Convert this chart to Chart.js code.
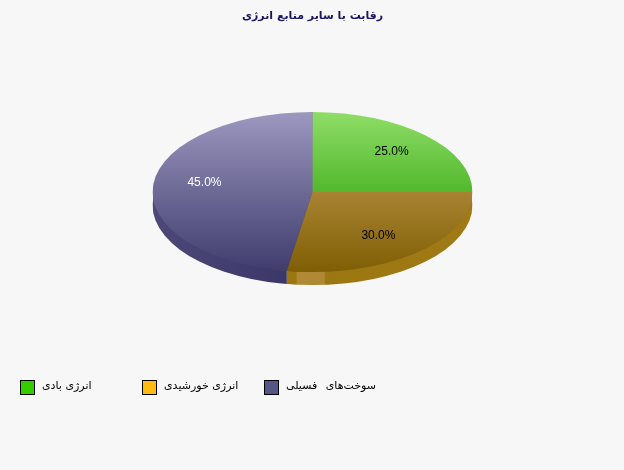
<!DOCTYPE html>
<html lang="fa">
<head>
<meta charset="utf-8">
<title>رقابت با سایر منابع انرژی</title>
<script src="https://cdn.jsdelivr.net/npm/chart.js@4"></script>
<style>
  html, body { margin: 0; padding: 0; background: #f7f7f7; }
  #wrap { position: relative; width: 624px; height: 470px; overflow: hidden; }
  #chart { display: block; }
  .key { position: absolute; top: 380px; width: 122px; height: 15px; }
  .key i { position: absolute; left: 0; top: 0; width: 13px; height: 13px; border: 1px solid #000; }
  .key span { position: absolute; left: 22px; top: -1px; white-space: nowrap; direction: rtl;
              font: 11px "DejaVu Sans", sans-serif; color: #000; }
</style>
</head>
<body>
<div id="wrap">
  <canvas id="chart" width="624" height="470"></canvas>
</div>
<script>
const titleText = 'رقابت با سایر منابع انرژی';
const categories = ['انرژی بادی', 'انرژی خورشیدی', 'سوخت‌های فسیلی'];
const values = [25, 30, 45];
const keyColors = ['#33cc00', '#ffbb11', '#555588'];
const labelColors = ['#000', '#000', '#fff'];
const topColors = [['#8fdd68', '#52b82c'], ['#a98332', '#7f5e04'], ['#9c98c0', '#3f3b6c']];

const DEPTH = 13;       // thickness of the disc
const SQUASH = 0.5;     // ry / rx
const LABEL_R = 0.69;

function ellipsePath(ctx, arc, dy) {
  ctx.beginPath();
  ctx.ellipse(arc.x, arc.y + dy, arc.outerRadius, arc.outerRadius * SQUASH, 0, 0, Math.PI * 2);
}

// x where a slice edge meets the front of the ellipse
function edgeX(arc, angle) {
  const rx = arc.outerRadius, ry = rx * SQUASH;
  const c = Math.cos(angle), s = Math.sin(angle);
  return arc.x + c / Math.sqrt(c * c / (rx * rx) + s * s / (ry * ry));
}

function goldRim(ctx, from, to) {
  const g = ctx.createLinearGradient(from, 0, to, 0);
  g.addColorStop(0, '#9c7610');
  g.addColorStop(0.05, '#9c7610');
  g.addColorStop(0.055, '#b08a36');
  g.addColorStop(0.2, '#ae8832');
  g.addColorStop(0.21, '#9c7610');
  g.addColorStop(1, '#a07a14');
  return g;
}

const disc = {
  id: 'disc',
  // the rim: same ellipse moved down, split at the front slice edge
  beforeDatasetsDraw(chart) {
    const ctx = chart.ctx;
    const arcs = chart.getDatasetMeta(0).data;
    const a = arcs[0];
    const split = edgeX(a, arcs[1].endAngle);
    const left = a.x - a.outerRadius, right = a.x + a.outerRadius;
    ctx.save();
    ellipsePath(ctx, a, DEPTH);
    ctx.clip();
    const purple = ctx.createLinearGradient(left, 0, split, 0);
    purple.addColorStop(0, '#4c4878');
    purple.addColorStop(1, '#3b3768');
    ctx.fillStyle = purple;
    ctx.fillRect(left, a.y, split - left, a.outerRadius);
    ctx.fillStyle = goldRim(ctx, split, right);
    ctx.fillRect(split, a.y, right - split, a.outerRadius);
    ctx.restore();
  },
  beforeDatasetDraw(chart) {
    const ctx = chart.ctx;
    const a = chart.getDatasetMeta(0).data[0];
    ctx.save();
    ellipsePath(ctx, a, 0);
    ctx.clip();
    // underlay so the slice seams don't show the page through
    ctx.fillStyle = '#7d8a70';
    ctx.fillRect(a.x - 2, a.y - a.outerRadius, 4, a.outerRadius);
    ctx.fillStyle = '#7f5e04';
    ctx.fillRect(a.x - a.outerRadius * 0.2, a.y, a.outerRadius * 0.2, a.outerRadius);
  },
  afterDatasetDraw(chart) {
    chart.ctx.restore();
  },
  afterDatasetsDraw(chart) {
    const ctx = chart.ctx;
    ctx.save();
    ctx.font = '12px "Liberation Sans", Arial, sans-serif';
    ctx.textAlign = 'center';
    ctx.textBaseline = 'middle';
    chart.getDatasetMeta(0).data.forEach((arc, i) => {
      const mid = (arc.startAngle + arc.endAngle) / 2;
      const r = arc.outerRadius * LABEL_R;
      ctx.fillStyle = labelColors[i];
      ctx.fillText(values[i].toFixed(1) + '%', arc.x + Math.cos(mid) * r + 1, arc.y + Math.sin(mid) * r * SQUASH - 1);
    });
    ctx.restore();
  }
};

function faceGradient(context) {
  const i = context.dataIndex;
  const area = context.chart.chartArea;
  if (!area) return topColors[i][0];
  const cy = (area.top + area.bottom) / 2;
  const ry = (area.bottom - area.top) / 2 * SQUASH;
  const top = i === 1 ? cy : cy - ry;
  const bottom = i === 0 ? cy : cy + ry;
  const g = context.chart.ctx.createLinearGradient(0, top, 0, bottom);
  g.addColorStop(0, topColors[i][0]);
  g.addColorStop(1, topColors[i][1]);
  return g;
}

new Chart(document.getElementById('chart'), {
  type: 'pie',
  data: {
    labels: categories,
    datasets: [{ data: values, backgroundColor: faceGradient, borderWidth: 0, hoverOffset: 0 }]
  },
  options: {
    responsive: false,
    animation: false,
    layout: { padding: { left: 152.5, right: 151.5, top: 0, bottom: 118 } },
    plugins: {
      legend: { display: false },
      tooltip: { enabled: false },
      title: {
        display: true,
        text: titleText,
        color: '#1a1464',
        font: { family: '"DejaVu Sans", sans-serif', size: 11, weight: 'bold' },
        padding: { top: 10, bottom: 8.8 }
      }
    }
  },
  plugins: [disc]
});

// key row under the pie
const wrap = document.getElementById('wrap');
categories.forEach((name, i) => {
  const key = document.createElement('div');
  key.className = 'key';
  key.style.left = (20 + i * 122) + 'px';
  const box = document.createElement('i');
  box.style.background = keyColors[i];
  const txt = document.createElement('span');
  txt.textContent = name;
  if (i === 2) txt.style.wordSpacing = '5px';
  key.append(box, txt);
  wrap.appendChild(key);
});
</script>
</body>
</html>
